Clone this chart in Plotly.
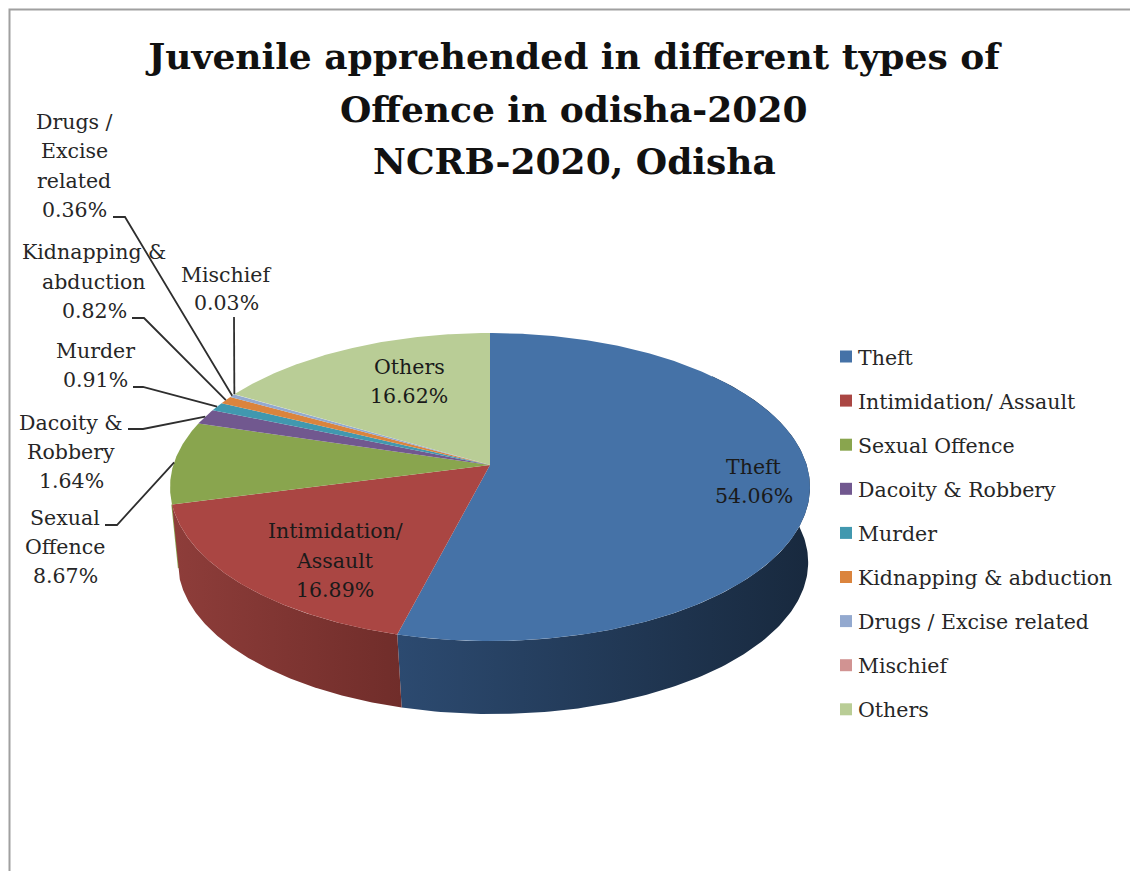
import numpy as np
import plotly.graph_objects as go

# Offence categories, shares in percent, clockwise from 12 o'clock
categories = ["Theft", "Intimidation/ Assault", "Sexual Offence", "Dacoity & Robbery", "Murder",
              "Kidnapping & abduction", "Drugs / Excise related", "Mischief", "Others"]
shares = [54.06, 16.89, 8.67, 1.64, 0.91, 0.82, 0.36, 0.03, 16.62]
top_colors = ["#4572A7", "#AA4643", "#89A54E", "#71588F", "#4198AF", "#DB843D", "#93A9CF", "#D19392", "#B9CD96"]
side_colors = {0: ("#2C4A70", "#18293E"), 1: ("#8E3D3A", "#702D2A")}
title_lines = ["Juvenile apprehended in different types of", "Offence in odisha-2020", "NCRB-2020, Odisha"]

# Perspective model of the tilted disc, in page pixels
CX, CY, RX, RY, PERSP = 490.0, 465.0, 316.7, 150.9, 0.1429
BOTTOM_SCALE, BOTTOM_CX, BOTTOM_CY = 0.985, 493.0, 540.6
FONT = "DejaVu Serif"
INK = "#262626"


def rim(theta, scale=1.0, cx=CX, cy=CY):
    """Project clockwise-from-top angles onto the disc outline."""
    u, v = np.sin(theta), np.cos(theta)
    d = 1 + PERSP * v
    return cx + scale * RX * u / d, cy - scale * RY * v / d


edges = np.radians(np.concatenate([[0], np.cumsum(shares)]) * 3.6)
fig = go.Figure()

# Hairline of the green wall peeking out beside the red wall's left edge
sx0, sy0 = rim(edges[2])
sx1, sy1 = rim(edges[2], BOTTOM_SCALE, BOTTOM_CX, BOTTOM_CY)
fig.add_trace(go.Scatter(
    x=[float(sx0), float(sx0 + 0.85 * (sx1 - sx0))], y=[float(sy0), float(sy0 + 0.85 * (sy1 - sy0))],
    mode="lines", line=dict(color=top_colors[2], width=1.5), hoverinfo="skip", showlegend=False))

# Side walls of the slices that face the viewer; the top faces cover the rest
for i, (left, right) in side_colors.items():
    t = np.linspace(max(edges[i], np.radians(50)), edges[i + 1], 160)
    xt, yt = rim(t)
    xb, yb = rim(t[::-1], BOTTOM_SCALE, BOTTOM_CX, BOTTOM_CY)
    x = np.concatenate([xt, xb])
    y = np.concatenate([yt, yb])
    fig.add_trace(go.Scatter(
        x=x, y=y, mode="lines", line=dict(width=0), fill="toself",
        fillgradient=dict(type="horizontal", colorscale=[[0, left], [1, right]],
                          start=float(x.min()), stop=float(x.max())),
        hoverinfo="skip", showlegend=False))

# Top faces
for i, name in enumerate(categories):
    t = np.linspace(edges[i], edges[i + 1], max(3, int(shares[i] * 8)))
    xt, yt = rim(t)
    fig.add_trace(go.Scatter(
        x=np.concatenate([[CX], xt, [CX]]), y=np.concatenate([[CY], yt, [CY]]),
        mode="lines", line=dict(width=0), fill="toself", fillcolor=top_colors[i],
        name=name, hoverinfo="name", showlegend=False))

# Leader lines: label-side stub, then out to the middle of the slice's rim
leader_stubs = {
    2: [(105, 525), (117, 525)],
    3: [(128, 429), (143, 429)],
    4: [(133, 387), (143, 387)],
    5: [(132, 318), (144, 318)],
    6: [(113, 217), (125, 217)],
    7: [(234, 317)],
}
for i, stub in leader_stubs.items():
    ex, ey = rim((edges[i] + edges[i + 1]) / 2)
    xs = [p[0] for p in stub] + [float(ex)]
    ys = [p[1] for p in stub] + [float(ey)]
    fig.add_trace(go.Scatter(x=xs, y=ys, mode="lines", line=dict(color="#2e2e2e", width=1.8),
                             hoverinfo="skip", showlegend=False))

# Colour key at the right
KEY_TOP, KEY_PITCH, KEY_TEXT_DROP = 356.5, 44.1, 3.0
key_y = [KEY_TOP + k * KEY_PITCH for k in range(len(categories))]
fig.add_trace(go.Scatter(x=[846] * len(categories), y=key_y, mode="markers",
                         marker=dict(symbol="square", size=12, color=top_colors),
                         hoverinfo="skip", showlegend=False))
fig.add_trace(go.Scatter(x=[858] * len(categories), y=[v + KEY_TEXT_DROP for v in key_y], mode="text",
                         text=categories, textposition="middle right",
                         textfont=dict(family=FONT, size=20.5, color=INK),
                         hoverinfo="skip", showlegend=False))

# Slice labels, one text line at a time with the spacing of the chart
slice_labels = [
    (754, 467, 29, ["Theft"], 0), (335, 531, 29.5, ["Intimidation/", "Assault"], 1),
    (65, 518, 29, ["Sexual", "Offence"], 2), (71, 423, 29, ["Dacoity &", "Robbery"], 3),
    (95, 351, 29, ["Murder"], 4), (94, 252, 29.5, ["Kidnapping &", "abduction"], 5),
    (74, 122, 29.3, ["Drugs /", "Excise", "related"], 6), (226, 275, 28, ["Mischief"], 7),
    (409, 367, 29, ["Others"], 8),
]
annotations = []
for x0, y0, pitch, words, idx in slice_labels:
    for n, line in enumerate(words + [f"{shares[idx]:.2f}%"]):
        annotations.append(dict(x=x0, y=y0 + n * pitch, text=line, xref="x", yref="y", showarrow=False,
                                xanchor="center", yanchor="middle",
                                font=dict(family=FONT, size=20.5, color="#1a1a1a" if idx in (0, 1, 8) else INK)))
for n, line in enumerate(title_lines[1:], start=1):
    annotations.append(dict(x=574, y=56 + n * 52.5, text=line, xref="x", yref="y", showarrow=False,
                            xanchor="center", yanchor="middle",
                            font=dict(family=FONT, size=36, color="#111111", weight="bold")))

fig.update_layout(
    width=1130, height=871, margin=dict(l=0, r=0, t=0, b=0),
    paper_bgcolor="white", plot_bgcolor="white", showlegend=False,
    title=dict(text=title_lines[0], x=574 / 1130, xanchor="center", y=1 - 56 / 871, yanchor="middle",
               font=dict(family=FONT, size=36, color="#111111", weight="bold")),
    xaxis=dict(visible=False, range=[0, 1130], fixedrange=True),
    yaxis=dict(visible=False, range=[871, 0], fixedrange=True),
    annotations=annotations,
    # Chart frame; only its top and left edges fall on the page
    shapes=[dict(type="path", xref="x", yref="y", path="M 9.5 871 L 9.5 9.5 L 1130 9.5",
                 line=dict(color="#a0a0a0", width=2), layer="below")],
)
fig.write_html("out.html")
